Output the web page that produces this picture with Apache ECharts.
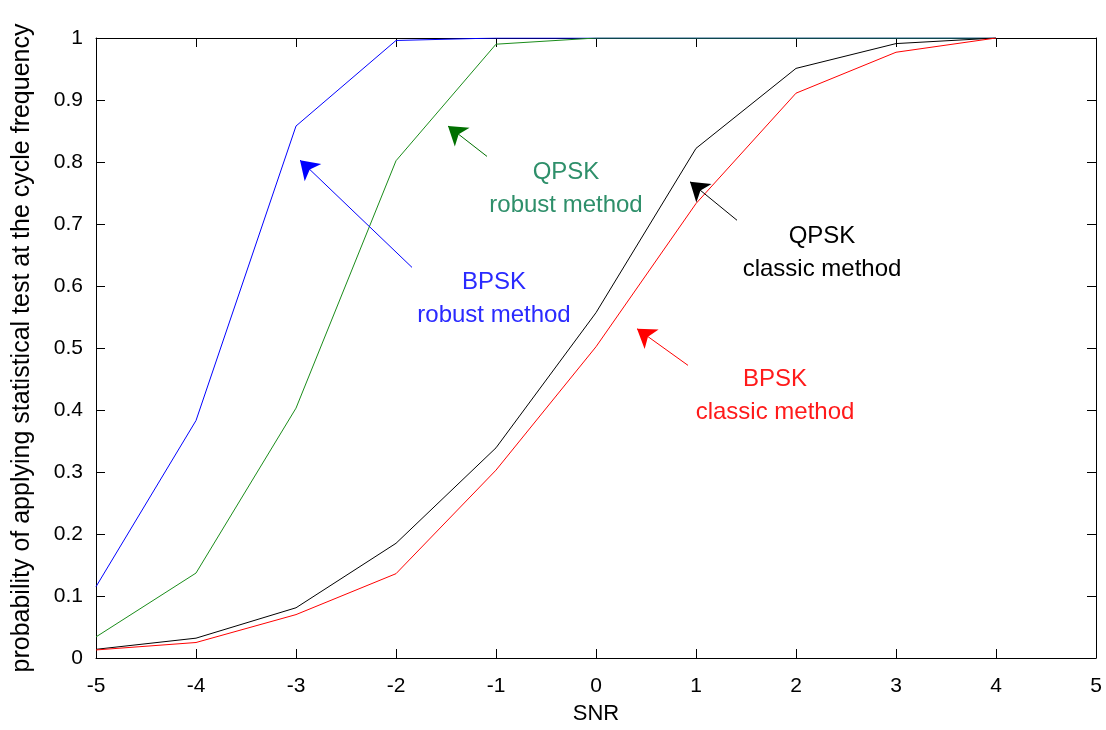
<!DOCTYPE html>
<html>
<head>
<meta charset="utf-8">
<script src="https://cdn.jsdelivr.net/npm/echarts@6/dist/echarts.min.js"></script>
<style>
  html, body { margin: 0; padding: 0; background: #fff; }
  #chart { width: 1106px; height: 730px; }
</style>
</head>
<body>
<div id="chart"></div>
<script>
// SNR sweep (dB)
const snr = [-5, -4, -3, -2, -1, 0, 1, 2, 3, 4];

// Probability of applying the statistical test at the cycle frequency
const bpskRobust  = [0.115, 0.383, 0.858, 0.996, 1.0, 1.0, 1.0, 1.0, 1.0, 1.0];
const qpskRobust  = [0.034, 0.137, 0.403, 0.802, 0.99, 1.0, 1.0, 1.0, 1.0, 1.0];
const qpskClassic = [0.014, 0.032, 0.081, 0.185, 0.339, 0.557, 0.822, 0.951, 0.991, 1.0];
const bpskClassic = [0.013, 0.025, 0.070, 0.136, 0.303, 0.502, 0.733, 0.911, 0.977, 1.0];

// Annotation callouts: [arrow tail, arrow head, text centre] in data units
const notes = {
  bpskRobust:  { tail: [-1.84, 0.630], head: [-2.96, 0.803], text: [-1.02, 0.579], lines: ['BPSK', 'robust method'] },
  qpskRobust:  { tail: [-1.09, 0.809], head: [-1.48, 0.858], text: [-0.30, 0.757], lines: ['QPSK', 'robust method'] },
  qpskClassic: { tail: [1.41, 0.706],  head: [0.94, 0.768],  text: [2.26, 0.653],  lines: ['QPSK', 'classic method'] },
  bpskClassic: { tail: [0.92, 0.472],  head: [0.41, 0.531],  text: [1.79, 0.422],  lines: ['BPSK', 'classic method'] }
};

const FONT = '"Liberation Sans", Arial, sans-serif';

function pairs(ys) { return snr.map((x, i) => [x, ys[i]]); }

function callout(note, lineColor, textColor) {
  return {
    markLine: {
      silent: true,
      animation: false,
      symbol: ['none', 'arrow'],
      symbolSize: 18,
      label: { show: false },
      lineStyle: { color: lineColor, width: 1, type: 'solid' },
      emphasis: { disabled: true },
      data: [[{ coord: note.tail }, { coord: note.head }]]
    },
    markPoint: {
      silent: true,
      animation: false,
      symbol: 'circle',
      symbolSize: 0,
      label: {
        show: true,
        position: 'inside',
        color: textColor,
        fontFamily: FONT,
        fontSize: 24,
        lineHeight: 33,
        align: 'center',
        verticalAlign: 'middle',
        formatter: note.lines.join('\n')
      },
      data: [{ coord: note.text }]
    }
  };
}

function lineSeries(name, ys, color, extra) {
  return Object.assign({
    name: name,
    type: 'line',
    data: pairs(ys),
    showSymbol: false,
    symbol: 'none',
    animation: false,
    lineStyle: { color: color, width: 1 },
    itemStyle: { color: color },
    z: 2
  }, extra);
}

const axisLineStyle = { show: true, onZero: false, lineStyle: { color: '#000', width: 1 } };
const tickStyle = { show: true, inside: true, length: 9, lineStyle: { color: '#000', width: 1 } };

const option = {
  backgroundColor: '#fff',
  animation: false,
  grid: { left: 96, right: 10, top: 38, bottom: 66, containLabel: false },
  xAxis: [
    {
      type: 'value', min: -5, max: 5, interval: 1, position: 'bottom',
      name: 'SNR', nameLocation: 'middle', nameGap: 45,
      nameTextStyle: { color: '#000', fontFamily: FONT, fontSize: 22 },
      axisLine: axisLineStyle, axisTick: tickStyle,
      axisLabel: { color: '#000', fontFamily: FONT, fontSize: 21, margin: 18 },
      splitLine: { show: false }
    },
    {
      type: 'value', min: -5, max: 5, interval: 1, position: 'top',
      axisLine: axisLineStyle, axisTick: tickStyle,
      axisLabel: { show: false }, splitLine: { show: false }
    }
  ],
  yAxis: [
    {
      type: 'value', min: 0, max: 1, interval: 0.1, position: 'left',
      name: 'probability of applying statistical test at the cycle frequency',
      nameLocation: 'middle', nameGap: 61, nameRotate: 90,
      nameTextStyle: { color: '#000', fontFamily: FONT, fontSize: 25 },
      axisLine: axisLineStyle, axisTick: tickStyle,
      axisLabel: {
        color: '#000', fontFamily: FONT, fontSize: 21, margin: 13,
        formatter: v => (Math.round(v * 10) / 10).toString()
      },
      splitLine: { show: false }
    },
    {
      type: 'value', min: 0, max: 1, interval: 0.1, position: 'right',
      axisLine: axisLineStyle, axisTick: tickStyle,
      axisLabel: { show: false }, splitLine: { show: false }
    }
  ],
  series: [
    lineSeries('BPSK robust method', bpskRobust, '#0000ff', callout(notes.bpskRobust, '#0000ff', '#2a2aff')),
    lineSeries('QPSK robust method', qpskRobust, '#1a8c1a', callout(notes.qpskRobust, '#007000', '#2e8f6a')),
    lineSeries('QPSK classic method', qpskClassic, '#000000', callout(notes.qpskClassic, '#000000', '#000000')),
    lineSeries('BPSK classic method', bpskClassic, '#ff0000', callout(notes.bpskClassic, '#ff0000', '#ff1a1a'))
  ]
};

const chart = echarts.init(document.getElementById('chart'), null, { renderer: 'canvas' });
chart.setOption(option);
</script>
</body>
</html>
